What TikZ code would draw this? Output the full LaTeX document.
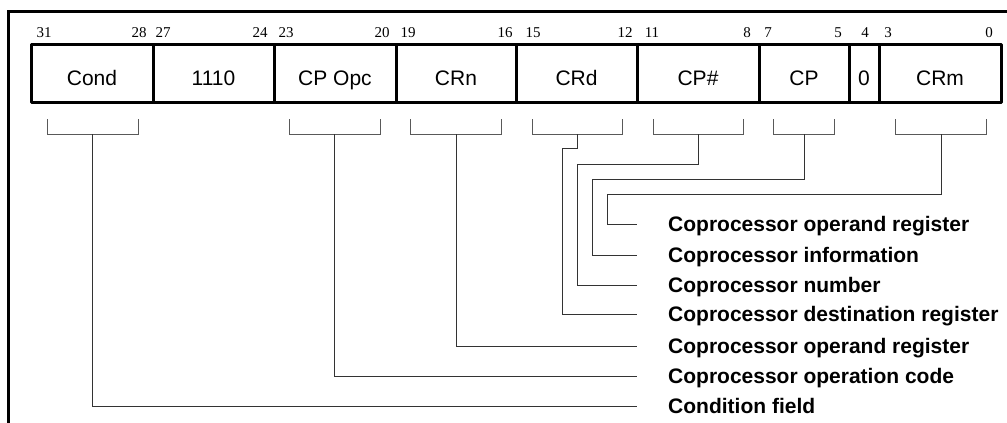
\documentclass[tikz,border=0pt]{standalone}
\usepackage{fontspec}
\setmainfont{Liberation Sans}
\newfontfamily\timesf{Liberation Serif}
\begin{document}
\begin{tikzpicture}[x=1pt,y=-1pt,
  field/.style={draw, line width=3pt, rectangle, minimum height=58pt, inner sep=0pt,
    font=\fontsize{21}{24}\selectfont, text height=24pt, text depth=0pt, line join=round},
  bitnum/.style={font=\timesf\fontsize{15}{17}\selectfont, inner sep=0pt, anchor=base},
  brk/.style={line width=1pt, draw=black!65},
  conn/.style={line width=1pt, draw=black!80},
  lbl/.style={font=\bfseries\fontsize{21}{24}\selectfont, inner sep=0pt, anchor=west,
    text height=15pt, text depth=0pt},
  frameline/.style={line width=3pt}]
\useasboundingbox (0,0) rectangle (1007,423);
\draw[frameline] (8,423) -- (8,11) -- (1007,11);
% fields
\node[field, minimum width=122pt] (cond)  at (92,73)    {Cond};
\node[field, minimum width=121pt] (opone) at (213.5,73) {1110};
\node[field, minimum width=122pt] (cpopc) at (335,73)   {CP Opc};
\node[field, minimum width=120pt] (crn)   at (456,73)   {CRn};
\node[field, minimum width=121pt] (crd)   at (576.5,73) {CRd};
\node[field, minimum width=122pt] (cpnum) at (698,73)   {CP\#};
\node[field, minimum width=90pt]  (cp)    at (804,73)   {CP};
\node[field, minimum width=30pt]  (zero)  at (864,73)   {0};
\node[field, minimum width=122pt] (crm)   at (940,73)   {CRm};
% bit numbers
\foreach \x/\n [count=\i] in {44/31,139/28,163/27,260/24,286/23,382/20,408/19,505/16,533/15,625/12,652/11,747/8,768/7,838/5,865/4,888/3,989/0}
  \node[bitnum] (b\i) at (\x,37) {\n};
% brackets
\draw[brk] (47,119) -- (47,134) -- (138,134) -- (138,119);
\draw[brk] (289,119) -- (289,134) -- (380,134) -- (380,119);
\draw[brk] (410,119) -- (410,134) -- (501,134) -- (501,119);
\draw[brk] (532,119) -- (532,134) -- (622,134) -- (622,119);
\draw[brk] (653,119) -- (653,134) -- (743,134) -- (743,119);
\draw[brk] (773,119) -- (773,134) -- (834,134) -- (834,119);
\draw[brk] (895,119) -- (895,134) -- (986,134) -- (986,119);
\coordinate (sCond) at (92,134);
\coordinate (sOpc) at (334,134);
\coordinate (sCRn) at (456,134);
\coordinate (sCRd) at (577,134);
\coordinate (sCPn) at (698,134);
\coordinate (sCP) at (804,134);
\coordinate (sCRm) at (941,134);
% labels
\node[lbl] (l1) at (668,224) {Coprocessor operand register};
\node[lbl] (l2) at (668,255) {Coprocessor information};
\node[lbl] (l3) at (668,285) {Coprocessor number};
\node[lbl] (l4) at (668,314) {Coprocessor destination register};
\node[lbl] (l5) at (668,346) {Coprocessor operand register};
\node[lbl] (l6) at (668,376) {Coprocessor operation code};
\node[lbl] (l7) at (668,406) {Condition field};
% connectors
\draw[conn] (sCRm) |- (607,194) |- ([xshift=-31pt]l1.west);
\draw[conn] (sCP)  |- (592,179) |- ([xshift=-31pt]l2.west);
\draw[conn] (sCPn) |- (577,164) |- ([xshift=-31pt]l3.west);
\draw[conn] (sCRd) |- (562,148) |- ([xshift=-31pt]l4.west);
\draw[conn] (sCRn) |- ([xshift=-31pt]l5.west);
\draw[conn] (sOpc) |- ([xshift=-31pt]l6.west);
\draw[conn] (sCond) |- ([xshift=-31pt]l7.west);
\end{tikzpicture}
\end{document}
